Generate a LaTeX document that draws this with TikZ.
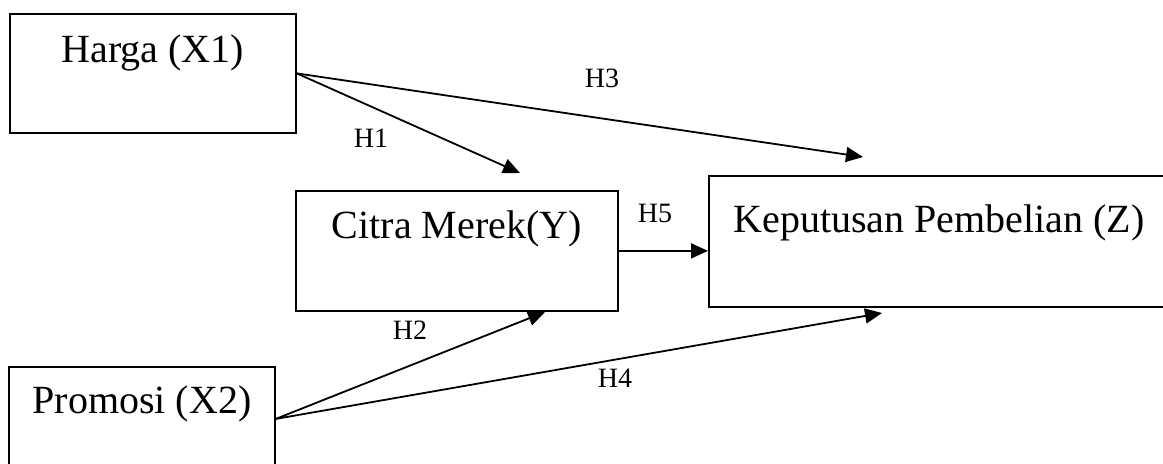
\documentclass[tikz,border=0pt]{standalone}
\usepackage{fontspec}
\setmainfont{Liberation Serif}
\usetikzlibrary{arrows.meta}

\begin{document}
\begin{tikzpicture}[x=0.5pt, y=-0.5pt,
        varbox/.style={draw, line width=0.9pt, inner sep=0pt, anchor=north west,
            font=\fontsize{20}{24}\selectfont},
        hyp/.style={font=\fontsize{14}{16}\selectfont, inner sep=0pt},
        path/.style={line width=0.9pt, -{Triangle[length=8.5pt, width=7.5pt]}}]

            \useasboundingbox (0,0) rectangle (1163,464);

            \node[varbox, minimum width=143pt, text height=24.5pt, text depth=35pt] (harga) at (9,13) {Harga (X1)};
            \node[varbox, minimum width=161pt, text height=24pt, text depth=36pt] (citra) at (295,190) {Citra Merek(Y)};
            \node[varbox, minimum width=230pt, text height=28.5pt, text depth=37pt] (keputusan) at (708,175) {Keputusan Pembelian (Z)};
            \node[varbox, minimum width=133pt, text height=23.5pt, text depth=28.5pt] (promosi) at (8,366) {Promosi (X2)};

            \coordinate (h1end) at (520,173);
            \coordinate (h3end) at (863,157);
            \coordinate (h2end) at (545,312);
            \coordinate (h4end) at (882,313);

            \draw[path] (harga.east) -- (h1end);
            \draw[path] (harga.east) -- (h3end);
            \draw[path] (citra.east) -- (citra.east -| keputusan.west);
            \draw[path] (promosi.east) -- (h2end);
            \draw[path] (promosi.east) -- (h4end);

            \node[hyp] (lh1) at (371,138) {H1};
            \node[hyp] (lh2) at (410,330) {H2};
            \node[hyp] (lh3) at (602,78) {H3};
            \node[hyp] (lh4) at (615,378) {H4};
            \node[hyp] (lh5) at (655,213) {H5};

        \end{tikzpicture}
\end{document}
